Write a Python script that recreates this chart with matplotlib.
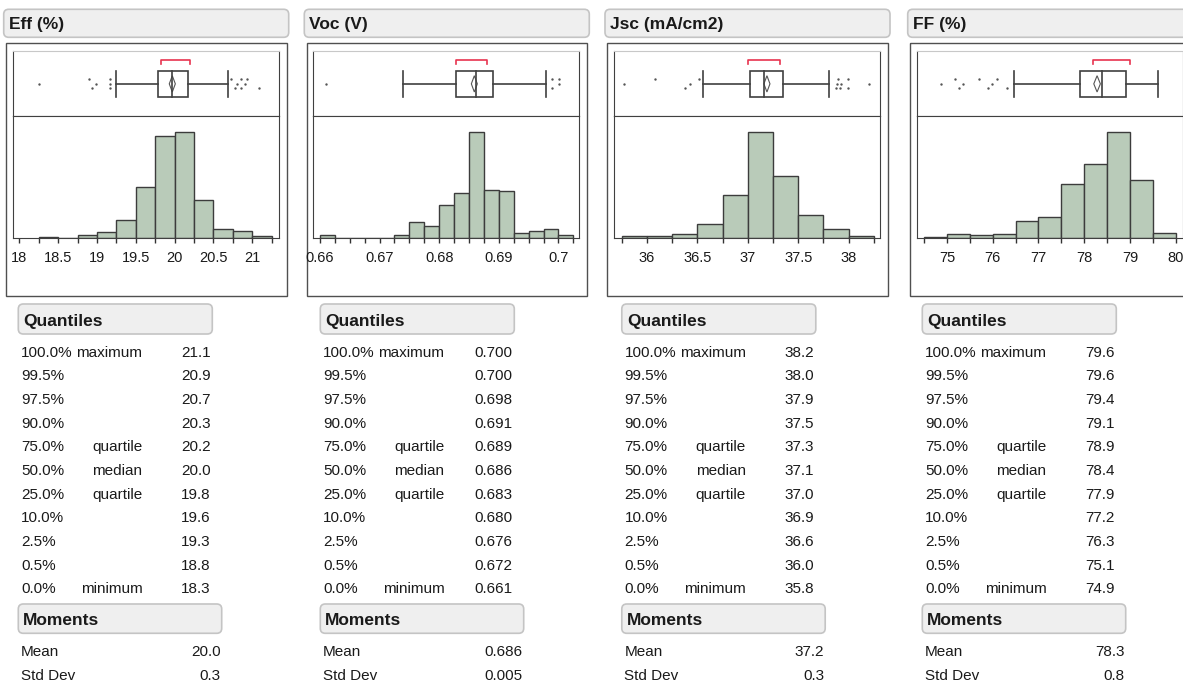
import numpy as np
import matplotlib.pyplot as plt
from matplotlib.patches import FancyBboxPatch, Rectangle, Polygon

plt.rcParams['font.family'] = ['Liberation Sans', 'DejaVu Sans']

W, H = 1183, 684

# ---- values ----
titles = ['Eff (%)', 'Voc (V)', 'Jsc (mA/cm2)', 'FF (%)']

# histograms: first bin start, bin width, counts
eff_bins = (18.25, 0.25)
eff_counts = [1, 0, 3, 5, 16, 46, 92, 96, 34, 8, 6, 2]
voc_bins = (0.66, 0.0025)
voc_counts = [2, 0, 0, 0, 0, 2, 12, 9, 25, 34, 80, 36, 35, 4, 5, 7, 2]
jsc_bins = (35.75, 0.25)
jsc_counts = [1, 1, 2, 8, 24, 60, 35, 13, 5, 1]
ff_bins = (74.5, 0.5)
ff_counts = [1, 3, 2, 3, 13, 16, 41, 56, 80, 44, 4]

# axis ranges and ticks (lo, hi, minor step, label step)
eff_axis = (17.915, 21.34, 0.25, 0.5)
voc_axis = (0.6589, 0.7035, 0.0025, 0.01)
jsc_axis = (35.675, 38.31, 0.25, 0.5)
ff_axis = (74.34, 80.15, 0.5, 1.0)

# box plot: whisker lo, q1, median, q3, whisker hi, mean, mean ci half, shortest half lo/hi
eff_box = [19.245, 19.79, 19.96, 20.17, 20.69, 19.97, 0.039, 19.83, 20.20]
voc_box = [0.674, 0.6829, 0.6862, 0.6891, 0.698, 0.6859, 0.0005, 0.6829, 0.6880]
jsc_box = [36.555, 37.02, 37.16, 37.35, 37.80, 37.19, 0.03, 37.00, 37.32]
ff_box = [76.46, 77.90, 78.39, 78.92, 79.61, 78.28, 0.072, 78.19, 78.99]

eff_out = [18.26, 18.90, 18.93, 18.99, 19.17, 19.17, 19.17,
           20.73, 20.78, 20.80, 20.85, 20.86, 20.91, 20.93, 21.08]
voc_out = [0.6611, 0.6990, 0.6990, 0.7001, 0.7001]
jsc_out = [35.77, 36.08, 36.38, 36.43, 36.52, 37.87, 37.88, 37.89,
           37.91, 37.92, 37.99, 37.99, 38.2]
ff_out = [74.88, 75.17, 75.26, 75.35, 75.70, 75.90, 75.99, 76.10, 76.32]

quant_pcts = ['100.0%', '99.5%', '97.5%', '90.0%', '75.0%', '50.0%',
              '25.0%', '10.0%', '2.5%', '0.5%', '0.0%']
quant_names = ['maximum', '', '', '', 'quartile', 'median', 'quartile',
               '', '', '', 'minimum']
eff_quant = ['21.1', '20.9', '20.7', '20.3', '20.2', '20.0', '19.8', '19.6', '19.3', '18.8', '18.3']
voc_quant = ['0.700', '0.700', '0.698', '0.691', '0.689', '0.686', '0.683', '0.680', '0.676', '0.672', '0.661']
jsc_quant = ['38.2', '38.0', '37.9', '37.5', '37.3', '37.1', '37.0', '36.9', '36.6', '36.0', '35.8']
ff_quant = ['79.6', '79.6', '79.4', '79.1', '78.9', '78.4', '77.9', '77.2', '76.3', '75.1', '74.9']

moment_names = ['Mean', 'Std Dev']
eff_mom = ['20.0', '0.3']
voc_mom = ['0.686', '0.005']
jsc_mom = ['37.2', '0.3']
ff_mom = ['78.3', '0.8']

panels = [
    (eff_bins, eff_counts, eff_axis, eff_box, eff_out, eff_quant, eff_mom),
    (voc_bins, voc_counts, voc_axis, voc_box, voc_out, voc_quant, voc_mom),
    (jsc_bins, jsc_counts, jsc_axis, jsc_box, jsc_out, jsc_quant, jsc_mom),
    (ff_bins, ff_counts, ff_axis, ff_box, ff_out, ff_quant, ff_mom),
]

# ---- layout (pixels) ----
inner_left = [12.7, 313.3, 614.0, 916.7]
table_off = [0, 302, 603.5, 904]
inner_w = 266
box_top, box_bot, hist_bot = 50.7, 115.7, 238.0

BAR = '#b9cbb9'
EDGE = '#3c3c3c'
TXT = '#1a1a1a'
HDR_FC, HDR_EC = '#efefef', '#c4c4c4'

fig = plt.figure(figsize=(W / 100, H / 100), dpi=100)
bg = fig.add_axes([0, 0, 1, 1], zorder=0)
bg.set_xlim(0, W)
bg.set_ylim(H, 0)
bg.axis('off')


def px_axes(left, top, width, height):
    return fig.add_axes([left / W, 1 - (top + height) / H, width / W, height / H], zorder=2)


def header(x, y, w, h, text, size):
    bg.add_patch(FancyBboxPatch((x, y), w, h, boxstyle='round,pad=0,rounding_size=5',
                                fc=HDR_FC, ec=HDR_EC, lw=1.2))
    bg.text(x + 5, y + h - 8, text, fontsize=size, fontweight='bold', color=TXT,
            va='baseline', ha='left')


for i, (bins, counts, axis, box, outs, quant, mom) in enumerate(panels):
    L = inner_left[i]
    lo, hi, step, lstep = axis

    # title bar and outer frame
    header(L - 9, 9.3, 285, 28, titles[i], 12.5)
    bg.add_patch(Rectangle((L - 6.5, 43.3), 280.5, 252.7, fc='none', ec='#505050', lw=1))

    # box plot strip
    bx = px_axes(L, box_top, inner_w, box_bot - box_top)
    bx.set_xlim(lo, hi)
    bx.set_ylim(0, 1)
    bx.set_xticks([])
    bx.set_yticks([])
    for s in bx.spines.values():
        s.set_color('#404040')
    bx.spines['top'].set_color('#c8c8c8')
    wlo, q1, med, q3, whi, mean, ci, sh_lo, sh_hi = box
    yc, hb = 0.49, 0.205
    bx.add_patch(Rectangle((q1, yc - hb), q3 - q1, 2 * hb, fc='white', ec='#404040', lw=1.2))
    bx.plot([wlo, q1], [yc, yc], color='#404040', lw=1.2)
    bx.plot([q3, whi], [yc, yc], color='#404040', lw=1.2)
    bx.plot([wlo, wlo], [yc - hb, yc + hb], color='#404040', lw=1.2)
    bx.plot([whi, whi], [yc - hb, yc + hb], color='#404040', lw=1.2)
    bx.plot([med, med], [yc - hb, yc + hb], color='#404040', lw=1.2)
    dh = 0.125
    bx.add_patch(Polygon([(mean - ci, yc), (mean, yc + dh), (mean + ci, yc), (mean, yc - dh)],
                         closed=True, fc='none', ec='#555555', lw=0.8))
    bx.plot([sh_lo, sh_lo, sh_hi, sh_hi], [0.80, 0.855, 0.855, 0.80], color='#e8334f', lw=1.2)
    jit = [0.0, 0.07, -0.07]
    bx.scatter(outs, [yc + jit[k % 3] for k in range(len(outs))], s=3, color='#555555', lw=0)

    # histogram
    hx = px_axes(L, box_bot, inner_w, hist_bot - box_bot)
    start, width = bins
    lefts = start + width * np.arange(len(counts))
    hx.bar(lefts, counts, width=width, align='edge', color=BAR, edgecolor=EDGE, lw=1)
    hx.set_xlim(lo, hi)
    hx.set_ylim(0, max(counts) * 1.1505)
    hx.set_yticks([])
    for s in hx.spines.values():
        s.set_color('#404040')
    first = np.ceil(lo / step - 1e-6) * step
    ticks = np.arange(first, hi + 1e-9, step)
    labels = ['%g' % round(t, 4) if abs(t / lstep - round(t / lstep)) < 1e-4 else '' for t in ticks]
    hx.set_xticks(ticks)
    hx.set_xticklabels(labels)
    hx.tick_params(axis='x', direction='out', length=3.6, width=1, color='#333333',
                   pad=6, labelsize=10.5, labelcolor=TXT)

    # quantile table
    T = table_off[i]
    header(18.3 + T, 304, 194, 30, 'Quantiles', 12.5)
    for r in range(len(quant_pcts)):
        yb = 356.7 + r * 23.66
        bg.text(21 + T, yb, quant_pcts[r], fontsize=11, color=TXT, va='baseline', ha='left')
        bg.text(142.5 + T, yb, quant_names[r], fontsize=11, color=TXT, va='baseline', ha='right')
        bg.text(210.7 + T, yb, quant[r], fontsize=11, color=TXT, va='baseline', ha='right')

    header(18.3 + T, 604, 203.4, 29.3, 'Moments', 12.5)
    for r, name in enumerate(moment_names):
        yb = 656 + r * 24
        bg.text(21 + T, yb, name, fontsize=11, color=TXT, va='baseline', ha='left')
        bg.text(220.7 + T, yb, mom[r], fontsize=11, color=TXT, va='baseline', ha='right')

fig.savefig('out.png', dpi=100)
